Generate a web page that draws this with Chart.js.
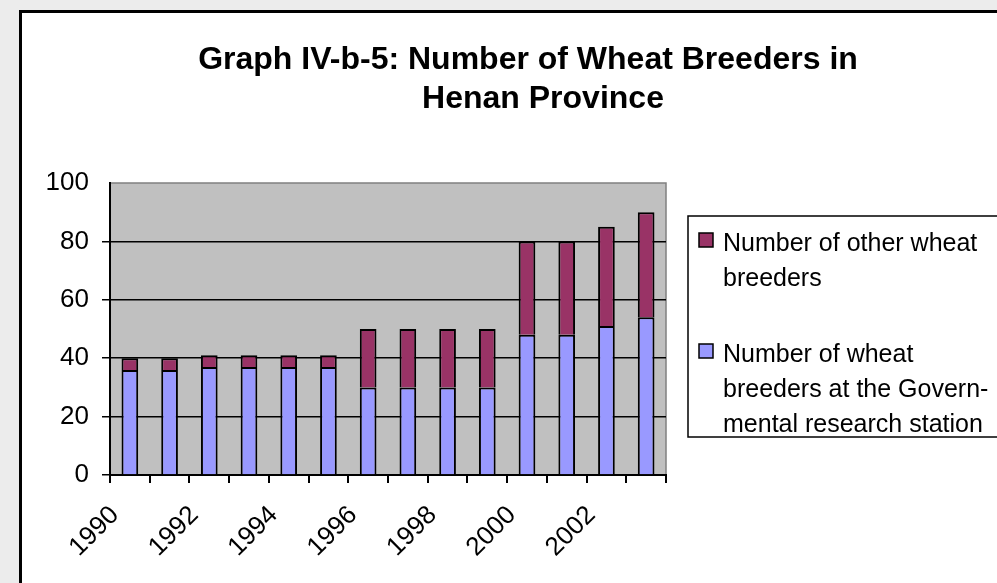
<!DOCTYPE html>
<html>
<head>
<meta charset="utf-8">
<script src="https://cdn.jsdelivr.net/npm/chart.js@4/dist/chart.umd.min.js"></script>
<style>
  html, body { margin: 0; padding: 0; background: #ececec; overflow: hidden; }
  #wrap { position: absolute; left: 0; top: 0; width: 997px; height: 583px; }
</style>
</head>
<body>
<div id="wrap"><canvas id="c" width="997" height="583"></canvas></div>
<script>
// ---- data ----
const years = ["1990","1991","1992","1993","1994","1995","1996","1997","1998","1999","2000","2001","2002","2003"];
const shownYearLabels = ["1990","1992","1994","1996","1998","2000","2002"];
const govStationBreeders = [36, 36, 37, 37, 37, 37, 30, 30, 30, 30, 48, 48, 51, 54];
const otherBreeders      = [4, 4, 4, 4, 4, 4, 20, 20, 20, 20, 32, 32, 34, 36];
const yTicks = [0, 20, 40, 60, 80, 100];
const titleLines = ["Graph IV-b-5: Number of Wheat Breeders in", "Henan Province"];
const govLegendLines = ["Number of wheat", "breeders at the Govern-", "mental research station"];
const otherLegendLines = ["Number of other wheat", "breeders"];

const FONT = "'Liberation Sans', Arial, sans-serif";

const framePlugin = {
  id: 'frame',
  beforeDraw(chart) {
    const ctx = chart.ctx;
    ctx.save();
    ctx.fillStyle = '#ececec';
    ctx.fillRect(0, 0, chart.width, chart.height);
    ctx.fillStyle = '#ffffff';
    ctx.fillRect(20, 11, chart.width, chart.height);
    ctx.strokeStyle = '#000';
    ctx.lineWidth = 3;
    ctx.beginPath();
    ctx.moveTo(20.5, chart.height + 5);
    ctx.lineTo(20.5, 11.5);
    ctx.lineTo(chart.width + 5, 11.5);
    ctx.stroke();
    // plot background
    const a = chart.chartArea;
    ctx.fillStyle = '#c0c0c0';
    ctx.fillRect(a.left, a.top, a.right - a.left, a.bottom - a.top);
    ctx.strokeStyle = '#808080';
    ctx.lineWidth = 1.5;
    ctx.beginPath();
    ctx.moveTo(a.left, a.top);
    ctx.lineTo(a.right, a.top);
    ctx.lineTo(a.right, a.bottom);
    ctx.stroke();
    // title
    ctx.fillStyle = '#000';
    ctx.font = "bold 32px " + FONT;
    ctx.textAlign = 'center';
    ctx.textBaseline = 'alphabetic';
    ctx.fillText(titleLines[0], 528, 69);
    ctx.fillText(titleLines[1], 543, 108);
    ctx.restore();
  },
  afterDraw(chart) {
    const ctx = chart.ctx;
    ctx.save();
    // legend box
    ctx.fillStyle = '#fff';
    ctx.fillRect(688, 216, 400, 221);
    ctx.strokeStyle = '#000';
    ctx.lineWidth = 1.5;
    ctx.strokeRect(688, 216, 400, 221);
    const items = [
      { ds: chart.data.datasets[1], lines: otherLegendLines, y: 251 },
      { ds: chart.data.datasets[0], lines: govLegendLines, y: 362 }
    ];
    ctx.font = "25px " + FONT;
    ctx.textAlign = 'left';
    ctx.textBaseline = 'alphabetic';
    items.forEach(it => {
      ctx.fillStyle = it.ds.backgroundColor;
      ctx.fillRect(699, it.y - 18, 14, 14);
      ctx.strokeStyle = '#000';
      ctx.lineWidth = 1.5;
      ctx.strokeRect(699, it.y - 18, 14, 14);
      ctx.fillStyle = '#000';
      it.lines.forEach((ln, i) => ctx.fillText(ln, 723, it.y + i * 35));
    });
    ctx.restore();
  }
};

new Chart(document.getElementById('c'), {
  type: 'bar',
  data: {
    labels: years,
    datasets: [
      { label: govLegendLines.join(' '), data: govStationBreeders, backgroundColor: '#9999ff',
        borderColor: '#000', borderWidth: 2, barPercentage: 0.42, categoryPercentage: 1 },
      { label: otherLegendLines.join(' '), data: otherBreeders, backgroundColor: '#993366',
        borderColor: '#000', borderWidth: 2, barPercentage: 0.42, categoryPercentage: 1 }
    ]
  },
  options: {
    responsive: false,
    animation: false,
    layout: { padding: { left: 20, top: 183, right: 331, bottom: 0 } },
    plugins: { legend: { display: false }, title: { display: false }, tooltip: { enabled: false } },
    scales: {
      x: {
        stacked: true,
        afterFit(s) { s.height = 108; },
        grid: { display: true, drawOnChartArea: false, drawTicks: true, tickLength: 8, color: '#000', lineWidth: 2, offset: true },
        border: { display: true, color: '#000', width: 2 },
        ticks: {
          autoSkip: false, minRotation: 45, maxRotation: 45, color: '#000', padding: 17, labelOffset: -15,
          font: { family: FONT, size: 26 },
          callback(v, i) { const y = years[i]; return shownYearLabels.includes(y) ? y : ''; }
        }
      },
      y: {
        stacked: true, min: 0, max: 100,
        afterFit(s) { s.width = 90; },
        afterBuildTicks(s) { s.ticks = yTicks.map(v => ({ value: v })); },
        grid: {
          color: (c) => (c.tick && c.tick.value === 100) ? 'rgba(0,0,0,0)' : '#000',
          lineWidth: 1.5, tickLength: 8, drawTicks: true
        },
        border: { display: true, color: '#000', width: 2 },
        ticks: { color: '#000', padding: 13, font: { family: FONT, size: 26 } }
      }
    }
  },
  plugins: [framePlugin]
});
</script>
</body>
</html>
